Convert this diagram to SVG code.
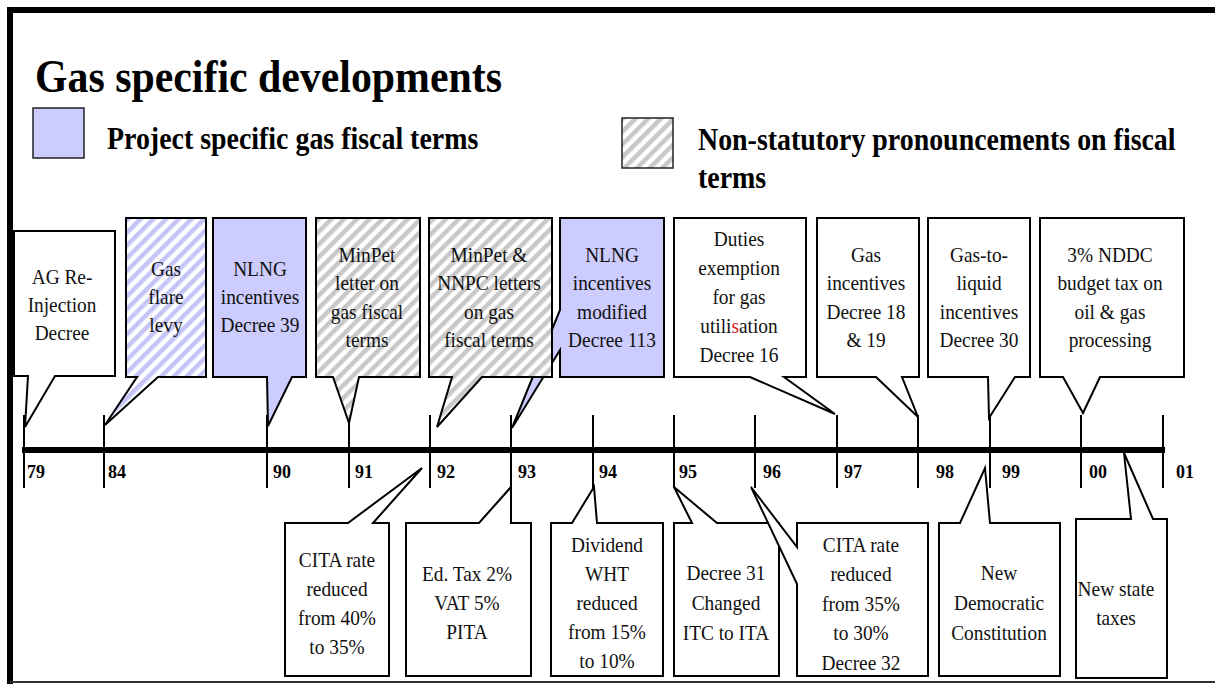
<svg xmlns="http://www.w3.org/2000/svg" width="1215" height="684" viewBox="0 0 1215 684">
<style>
.c{font-family:"Liberation Serif","Times New Roman",serif;font-size:21.5px;text-anchor:middle;fill:#111}
.b{font-family:"Liberation Serif","Times New Roman",serif;font-weight:bold;fill:#000}
.y{font-family:"Liberation Serif","Times New Roman",serif;font-weight:bold;font-size:18px;fill:#000}
.box{stroke:#000;stroke-width:2;stroke-linejoin:miter}
.w{fill:#fff}
.bl{fill:#ccf}
.pb{fill:url(#pb)}
.pg{fill:url(#pg)}
.tk{stroke:#000;stroke-width:2}
</style>
<defs>
<pattern id="pb" width="9" height="9" patternUnits="userSpaceOnUse" patternTransform="rotate(45)">
<rect width="9" height="9" fill="#fff"/><rect width="4.5" height="9" fill="#c4c4f6"/>
</pattern>
<pattern id="pg" width="9" height="9" patternUnits="userSpaceOnUse" patternTransform="rotate(45)">
<rect width="9" height="9" fill="#fff"/><rect width="4.5" height="9" fill="#c8c8c8"/>
</pattern>
</defs>
<rect width="1215" height="684" fill="#fff"/>
<g id="frame">
<path d="M10,684 V10 H1215" fill="none" stroke="#000" stroke-width="6"/>
<line x1="10" y1="682" x2="1215" y2="682" stroke="#333" stroke-width="2"/>
</g>
<g id="title">
<text class="b" font-size="47" transform="translate(35,92) scale(.89,1)">Gas specific developments</text>
</g>
<g id="legend">
<rect x="33" y="108" width="51" height="50" fill="#ccf" stroke="#222" stroke-width="1.5"/>
<text class="b" font-size="31" transform="translate(107,149) scale(.9,1)">Project specific gas fiscal terms</text>
<rect x="622" y="118" width="51" height="50" fill="url(#pg)" stroke="#222" stroke-width="1.5"/>
<text class="b" font-size="31" transform="translate(698,150) scale(.9,1)"><tspan x="0">Non-statutory pronouncements on fiscal</tspan><tspan x="0" dy="38">terms</tspan></text>
</g>
<g id="connectors">
<line x1="22" y1="450" x2="1165" y2="450" stroke="#000" stroke-width="6"/>
<g class="tk">
<line x1="24" y1="415" x2="24" y2="488"/>
<line x1="104" y1="415" x2="104" y2="488"/>
<line x1="267" y1="415" x2="267" y2="488"/>
<line x1="349" y1="415" x2="349" y2="488"/>
<line x1="430" y1="415" x2="430" y2="488"/>
<line x1="511" y1="415" x2="511" y2="488"/>
<line x1="593" y1="415" x2="593" y2="488"/>
<line x1="674" y1="415" x2="674" y2="488"/>
<line x1="755" y1="415" x2="755" y2="488"/>
<line x1="837" y1="415" x2="837" y2="488"/>
<line x1="918" y1="415" x2="918" y2="488"/>
<line x1="990" y1="415" x2="990" y2="488"/>
<line x1="1081" y1="415" x2="1081" y2="488"/>
<line x1="1163" y1="415" x2="1163" y2="488"/>
</g>
</g>
<g id="years">
<text class="y" x="27" y="478">79</text>
<text class="y" x="108" y="478">84</text>
<text class="y" x="273" y="478">90</text>
<text class="y" x="355" y="478">91</text>
<text class="y" x="437" y="478">92</text>
<text class="y" x="518" y="478">93</text>
<text class="y" x="599" y="478">94</text>
<text class="y" x="679" y="478">95</text>
<text class="y" x="763" y="478">96</text>
<text class="y" x="844" y="478">97</text>
<text class="y" x="936" y="478">98</text>
<text class="y" x="1002" y="478">99</text>
<text class="y" x="1089" y="478">00</text>
<text class="y" x="1176" y="478">01</text>
</g>
<g id="n-ag">
<path class="box w" d="M14,231 H115 V376 H55 L25,427 L28,376 H14 Z"/>
<text class="c" transform="translate(62,284) scale(.9,1)"><tspan x="0">AG Re-</tspan><tspan x="0" dy="28">Injection</tspan><tspan x="0" dy="28">Decree</tspan></text>
</g>
<g id="n-flare">
<path class="box pb" d="M126,218 H206 V377 H158 L105,425 L137,377 H126 Z"/>
<text class="c" transform="translate(166,276) scale(.9,1)"><tspan x="0">Gas</tspan><tspan x="0" dy="28">flare</tspan><tspan x="0" dy="28">levy</tspan></text>
</g>
<g id="n-nlng39">
<path class="box bl" d="M213,218 H306 V377 H292 L268,426 L267,377 H213 Z"/>
<text class="c" transform="translate(260,276) scale(.9,1)"><tspan x="0">NLNG</tspan><tspan x="0" dy="28">incentives</tspan><tspan x="0" dy="28">Decree 39</tspan></text>
</g>
<g id="n-minpet">
<path class="box pg" d="M316,218 H420 V377 H359 L349,423 L333,377 H316 Z"/>
<text class="c" transform="translate(367,262) scale(.9,1)"><tspan x="0">MinPet</tspan><tspan x="0" dy="28.5">letter on</tspan><tspan x="0" dy="28.5">gas fiscal</tspan><tspan x="0" dy="28.5">terms</tspan></text>
</g>
<g id="n-nlng113">
<path class="box bl" d="M560,218 H664 V377 H560 V350 L512,428 L560,310 Z"/>
<text class="c" transform="translate(612,262) scale(.9,1)"><tspan x="0">NLNG</tspan><tspan x="0" dy="28.5">incentives</tspan><tspan x="0" dy="28.5">modified</tspan><tspan x="0" dy="28.5">Decree 113</tspan></text>
</g>
<g id="n-minpet-nnpc">
<path class="box pg" d="M429,218 H552 V377 H482 L437,427 L452,377 H429 Z"/>
<text class="c" transform="translate(489,262) scale(.9,1)"><tspan x="0">MinPet &amp;</tspan><tspan x="0" dy="28.5">NNPC letters</tspan><tspan x="0" dy="28.5">on gas</tspan><tspan x="0" dy="28.5">fiscal terms</tspan></text>
</g>
<g id="n-duties">
<path class="box w" d="M674,218 H806 V377 H784 L835,414 L750,377 H674 Z"/>
<text class="c" transform="translate(739,246) scale(.9,1)"><tspan x="0">Duties</tspan><tspan x="0" dy="29">exemption</tspan><tspan x="0" dy="29">for gas</tspan><tspan x="0" dy="29">utili<tspan fill="#e02020">s</tspan>ation</tspan><tspan x="0" dy="29">Decree 16</tspan></text>
</g>
<g id="n-gasinc">
<path class="box w" d="M817,218 H919 V377 H902 L918,417 L876,377 H817 Z"/>
<text class="c" transform="translate(866,262) scale(.9,1)"><tspan x="0">Gas</tspan><tspan x="0" dy="28.5">incentives</tspan><tspan x="0" dy="28.5">Decree 18</tspan><tspan x="0" dy="28.5">&amp; 19</tspan></text>
</g>
<g id="n-gtl">
<path class="box w" d="M928,218 H1030 V377 H1015 L989,418 L988,377 H928 Z"/>
<text class="c" transform="translate(979,262) scale(.9,1)"><tspan x="0">Gas-to-</tspan><tspan x="0" dy="28.5">liquid</tspan><tspan x="0" dy="28.5">incentives</tspan><tspan x="0" dy="28.5">Decree 30</tspan></text>
</g>
<g id="n-nddc">
<path class="box w" d="M1040,218 H1184 V377 H1100 L1083,413 L1063,377 H1040 Z"/>
<text class="c" transform="translate(1110,262) scale(.9,1)"><tspan x="0">3% NDDC</tspan><tspan x="0" dy="28.5">budget tax on</tspan><tspan x="0" dy="28.5">oil &amp; gas</tspan><tspan x="0" dy="28.5">processing</tspan></text>
</g>
<g id="n-cita40">
<path class="box w" d="M285,676 V523 H348 L422,468 L373,523 H389 V676 Z"/>
<text class="c" transform="translate(337,567) scale(.9,1)"><tspan x="0">CITA rate</tspan><tspan x="0" dy="29">reduced</tspan><tspan x="0" dy="29">from 40%</tspan><tspan x="0" dy="29">to 35%</tspan></text>
</g>
<g id="n-edtax">
<path class="box w" d="M406,676 V523 H479 L511,487 L511,523 H531 V676 Z"/>
<text class="c" transform="translate(467,581) scale(.9,1)"><tspan x="0">Ed. Tax 2%</tspan><tspan x="0" dy="29">VAT 5%</tspan><tspan x="0" dy="29">PITA</tspan></text>
</g>
<g id="n-dividend">
<path class="box w" d="M551,676 V523 H572 L594,487 L597,523 H663 V676 Z"/>
<text class="c" transform="translate(607,552) scale(.9,1)"><tspan x="0">Dividend</tspan><tspan x="0" dy="29">WHT</tspan><tspan x="0" dy="29">reduced</tspan><tspan x="0" dy="29">from 15%</tspan><tspan x="0" dy="29">to 10%</tspan></text>
</g>
<g id="n-decree31">
<path class="box w" d="M674,676 V523 H692 L674,487 L717,523 H779 V676 Z"/>
<text class="c" transform="translate(726,580) scale(.9,1)"><tspan x="0">Decree 31</tspan><tspan x="0" dy="30">Changed</tspan><tspan x="0" dy="30">ITC to ITA</tspan></text>
</g>
<g id="n-cita35">
<path class="box w" d="M797,523 H928 V676 H797 V584 L751,487 L797,547 Z"/>
<text class="c" transform="translate(861,552) scale(.9,1)"><tspan x="0">CITA rate</tspan><tspan x="0" dy="29.5">reduced</tspan><tspan x="0" dy="29.5">from 35%</tspan><tspan x="0" dy="29.5">to 30%</tspan><tspan x="0" dy="29.5">Decree 32</tspan></text>
</g>
<g id="n-constitution">
<path class="box w" d="M939,676 V523 H960 L985,468 L990,523 H1060 V676 Z"/>
<text class="c" transform="translate(999,580) scale(.9,1)"><tspan x="0">New</tspan><tspan x="0" dy="30">Democratic</tspan><tspan x="0" dy="30">Constitution</tspan></text>
</g>
<g id="n-statetaxes">
<path class="box w" d="M1076,678 V519 H1131 L1124,453 L1153,519 H1167 V678 Z"/>
<text class="c" transform="translate(1116,596) scale(.9,1)"><tspan x="0">New state</tspan><tspan x="0" dy="29">taxes</tspan></text>
</g>
</svg>
